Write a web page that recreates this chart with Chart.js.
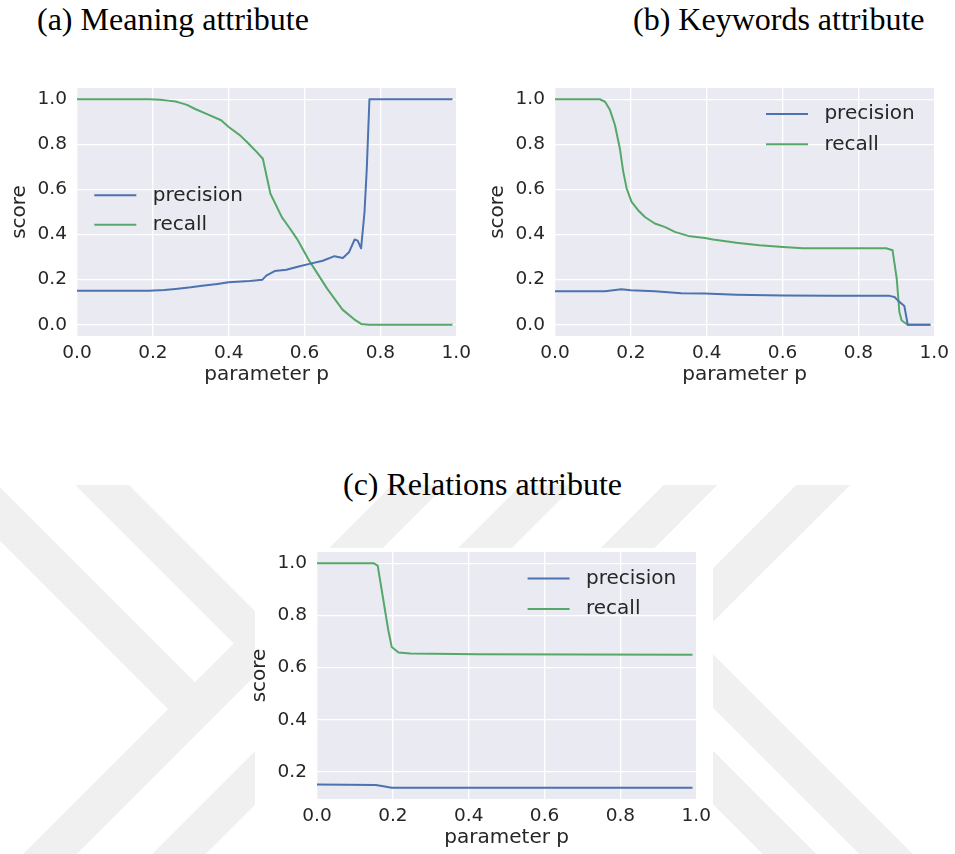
<!DOCTYPE html>
<html>
<head>
<meta charset="utf-8">
<script src="https://cdn.jsdelivr.net/npm/chart.js@4.4.1/dist/chart.umd.min.js"></script>
<style>
  html, body { margin: 0; padding: 0; background: #fff; }
  body { width: 955px; height: 854px; position: relative; overflow: hidden; }
  .cap { position: absolute; font-family: "Liberation Serif", "Times New Roman", serif;
         font-size: 32px; line-height: 32px; color: #000; white-space: nowrap; }
  .box { position: absolute; }
  #wm { position: absolute; left: 0; top: 0; }
  #paper { position: absolute; left: 255px; top: 548px; width: 458px; height: 306px; background: #fff; }
</style>
</head>
<body>
<svg id="wm" width="955" height="854">
  <defs><clipPath id="wmClip"><rect x="0" y="485" width="955" height="369"/></clipPath></defs>
  <g clip-path="url(#wmClip)" stroke="#f0f0f0" stroke-width="38" fill="none" stroke-linejoin="miter">
    <line x1="-200" y1="314" x2="195" y2="709"/>
    <line x1="-200" y1="1104" x2="650" y2="254"/>
    <line x1="-100" y1="283" x2="325" y2="708"/>
    <line x1="100" y1="933" x2="700" y2="333"/>
    <polyline points="900,275.5 555.5,620 900,964.5"/>
    <polyline points="1000,308.5 670,638 1000,968"/>
  </g>
</svg>
<div id="paper"></div>

<div class="cap" style="left:37px; top:3px;">(a) Meaning attribute</div>
<div class="cap" style="left:633px; top:3px;">(b) Keywords attribute</div>
<div class="cap" style="left:343px; top:468px;">(c) Relations attribute</div>

<div class="box" style="left:0px; top:60px;"><canvas id="chartA" width="477" height="327"></canvas></div>
<div class="box" style="left:478px; top:60px;"><canvas id="chartB" width="477" height="327"></canvas></div>
<div class="box" style="left:240px; top:524px;"><canvas id="chartC" width="477" height="326"></canvas></div>

<script>
// ---- (a) Meaning attribute ----
const meaningPrecX = [0, 0.19, 0.23, 0.26, 0.30, 0.33, 0.37, 0.40, 0.455, 0.489, 0.499, 0.521, 0.552, 0.587, 0.613, 0.648, 0.679, 0.701, 0.717, 0.732, 0.74, 0.749, 0.758, 0.764, 0.771, 0.99];
const meaningPrecY = [0.151, 0.151, 0.154, 0.159, 0.166, 0.173, 0.181, 0.188, 0.194, 0.2, 0.218, 0.238, 0.244, 0.259, 0.27, 0.284, 0.304, 0.296, 0.321, 0.378, 0.373, 0.339, 0.499, 0.692, 1.0, 1.0];
const meaningRecX = [0, 0.19, 0.22, 0.24, 0.26, 0.27, 0.29, 0.31, 0.34, 0.38, 0.40, 0.43, 0.45, 0.47, 0.49, 0.51, 0.54, 0.56, 0.58, 0.61, 0.66, 0.70, 0.73, 0.75, 0.77, 0.99];
const meaningRecY = [1.0, 1.0, 0.998, 0.994, 0.99, 0.985, 0.975, 0.958, 0.936, 0.907, 0.877, 0.84, 0.807, 0.773, 0.736, 0.581, 0.477, 0.43, 0.381, 0.29, 0.159, 0.067, 0.025, 0.003, 0, 0];

// ---- (b) Keywords attribute ----
const keywordsPrecX = [0, 0.132, 0.175, 0.2, 0.263, 0.333, 0.395, 0.478, 0.601, 0.732, 0.882, 0.895, 0.904, 0.921, 0.93, 0.99];
const keywordsPrecY = [0.149, 0.149, 0.157, 0.153, 0.148, 0.140, 0.138, 0.133, 0.13, 0.128, 0.128, 0.123, 0.108, 0.083, 0, 0];
const keywordsRecX = [0, 0.118, 0.132, 0.145, 0.158, 0.171, 0.18, 0.189, 0.202, 0.219, 0.237, 0.263, 0.289, 0.316, 0.351, 0.395, 0.417, 0.478, 0.539, 0.601, 0.654, 0.732, 0.873, 0.89, 0.901, 0.908, 0.914, 0.93, 0.99];
const keywordsRecY = [1.0, 1.0, 0.989, 0.952, 0.886, 0.782, 0.678, 0.604, 0.545, 0.508, 0.478, 0.449, 0.434, 0.412, 0.394, 0.385, 0.378, 0.364, 0.352, 0.345, 0.339, 0.339, 0.339, 0.33, 0.204, 0.056, 0.019, 0, 0];

// ---- (c) Relations attribute ----
const relationsPrecX = [0, 0.155, 0.175, 0.197, 0.99];
const relationsPrecY = [0.1515, 0.15, 0.145, 0.139, 0.139];
const relationsRecX = [0, 0.149, 0.16, 0.175, 0.188, 0.197, 0.215, 0.246, 0.424, 0.99];
const relationsRecY = [1.0, 1.0, 0.991, 0.858, 0.743, 0.679, 0.658, 0.654, 0.651, 0.649];

// ---- axis ticks ----
const xTicks = [0, 0.2, 0.4, 0.6, 0.8, 1.0];
const yTicksFull = [0, 0.2, 0.4, 0.6, 0.8, 1.0];
const yTicksUpper = [0.2, 0.4, 0.6, 0.8, 1.0];

const seriesNames = ['precision', 'recall'];
const PREC_COLOR = '#4C72B0';
const REC_COLOR = '#55A868';
const TEXT = '#262626';
const FONT = 'DejaVu Sans';

// grey plotting panel behind the grid
const panelBg = {
  id: 'panelBg',
  beforeDraw(chart) {
    const { ctx, chartArea: a } = chart;
    ctx.save();
    ctx.fillStyle = '#EAEAF2';
    ctx.fillRect(a.left, a.top, a.right - a.left, a.bottom - a.top);
    ctx.restore();
  }
};

// legend drawn inside the panel, without a frame
const innerLegend = {
  id: 'innerLegend',
  afterDatasetsDraw(chart, args, opts) {
    const { ctx, chartArea: a } = chart;
    ctx.save();
    ctx.font = '20px "' + FONT + '"';
    ctx.textBaseline = 'middle';
    ctx.textAlign = 'left';
    chart.data.datasets.forEach((ds, i) => {
      const y = a.top + opts.y + i * opts.gap;
      const x0 = a.left + opts.x;
      ctx.strokeStyle = ds.borderColor;
      ctx.lineWidth = 2;
      ctx.beginPath();
      ctx.moveTo(x0, y);
      ctx.lineTo(x0 + 42, y);
      ctx.stroke();
      ctx.fillStyle = TEXT;
      ctx.fillText(ds.label, x0 + 58.4, y);
    });
    ctx.restore();
  }
};

function pts(xs, ys) { return xs.map((x, i) => ({ x: x, y: ys[i] })); }

function build(id, precX, precY, recX, recY, yMin, yMax, yTicks, legendPos) {
  const lineStyle = { borderWidth: 2, pointRadius: 0, tension: 0, fill: false, borderJoinStyle: 'round' };
  return new Chart(document.getElementById(id), {
    type: 'line',
    data: {
      datasets: [
        Object.assign({ label: seriesNames[0], data: pts(precX, precY), borderColor: PREC_COLOR }, lineStyle),
        Object.assign({ label: seriesNames[1], data: pts(recX, recY), borderColor: REC_COLOR }, lineStyle)
      ]
    },
    options: {
      responsive: false,
      animation: false,
      devicePixelRatio: 1,
      layout: { padding: { top: 28, right: 20, bottom: 0, left: 0 } },
      plugins: {
        legend: { display: false },
        tooltip: { enabled: false },
        innerLegend: legendPos
      },
      scales: {
        x: {
          type: 'linear', min: 0, max: 1,
          afterBuildTicks: s => { s.ticks = xTicks.map(v => ({ value: v })); },
          afterFit: s => { s.height = 51; },
          grid: { color: '#ffffff', lineWidth: 1.3, drawTicks: false },
          border: { display: false },
          ticks: { padding: 6, color: TEXT, font: { family: FONT, size: 18.5 }, maxRotation: 0, autoSkip: false,
                   callback: v => Number(v).toFixed(1) },
          title: { display: true, text: 'parameter p', color: TEXT, font: { family: FONT, size: 20 },
                   padding: { top: 0, bottom: 0 } }
        },
        y: {
          type: 'linear', min: yMin, max: yMax,
          afterBuildTicks: s => { s.ticks = yTicks.map(v => ({ value: v })); },
          afterFit: s => { s.width = 77; },
          grid: { color: '#ffffff', lineWidth: 1.3, drawTicks: false },
          border: { display: false },
          ticks: { padding: 10, color: TEXT, font: { family: FONT, size: 18.5 }, autoSkip: false,
                   callback: v => Number(v).toFixed(1) },
          title: { display: true, text: 'score', color: TEXT, font: { family: FONT, size: 20 },
                   padding: { top: 8, bottom: 0 } }
        }
      }
    },
    plugins: [panelBg, innerLegend]
  });
}

build('chartA', meaningPrecX, meaningPrecY, meaningRecX, meaningRecY, -0.05, 1.05, yTicksFull,
      { x: 17.3, y: 107.3, gap: 29.4 });
build('chartB', keywordsPrecX, keywordsPrecY, keywordsRecX, keywordsRecY, -0.05, 1.05, yTicksFull,
      { x: 211, y: 26, gap: 30.3 });
build('chartC', relationsPrecX, relationsPrecY, relationsRecX, relationsRecY, 0.096, 1.043, yTicksUpper,
      { x: 210.6, y: 26.6, gap: 30.4 });
</script>
</body>
</html>
